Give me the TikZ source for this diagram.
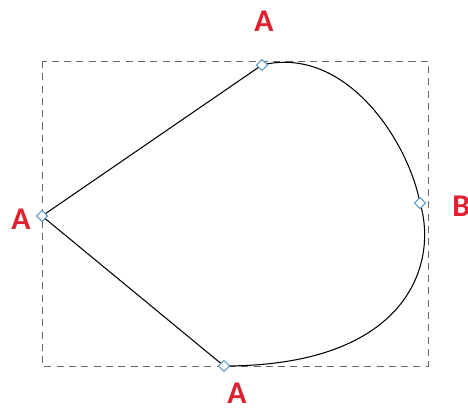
\documentclass[tikz,border=0pt]{standalone}
\usepackage{fontspec}
\setmainfont{Carlito}
\usetikzlibrary{positioning,shapes.geometric}
\definecolor{labred}{HTML}{E0202E}
\definecolor{handleblue}{HTML}{4A90C8}
\tikzset{
  % ramen och kurvan
  bbox/.style={draw=black!60,line width=0.5pt,dash pattern=on 4pt off 3pt},
  crv/.style={draw=black,line width=0.6pt},
  hdl/.style={diamond,draw=handleblue,fill=white,line width=0.5pt,inner sep=0pt,
              minimum size=6.5pt},
  lbl/.style={text=labred,font=\fontsize{18}{20}\selectfont\bfseries,inner sep=0pt},
}
\begin{document}
\begin{tikzpicture}[x=0.02cm,y=-0.02cm]
  \useasboundingbox (0,0) rectangle (468,408);
  \draw[bbox] (42,61) rectangle (428,366);
  \coordinate (pt) at (262,65);
  \coordinate (pl) at (42,216);
  \coordinate (pb) at (224,366);
  \coordinate (pr) at (420,203);
  \draw[crv] (pb) -- (pl) -- (pt)
    .. controls (345,45) and (408,140) .. (pr)
    .. controls (438,262) and (410,366) .. (pb);
  \node[hdl] (ht) at (pt) {};
  \node[hdl] (hl) at (pl) {};
  \node[hdl] (hb) at (pb) {};
  \node[hdl] (hr) at (pr) {};
  \node[lbl] (at) at (264,21) {A};
  \node[lbl] (al) at (21,219) {A};
  \node[lbl] (ab) at (237,393) {A};
  \node[lbl,anchor=west] (br) at (452,206) {B};
\end{tikzpicture}
\end{document}
